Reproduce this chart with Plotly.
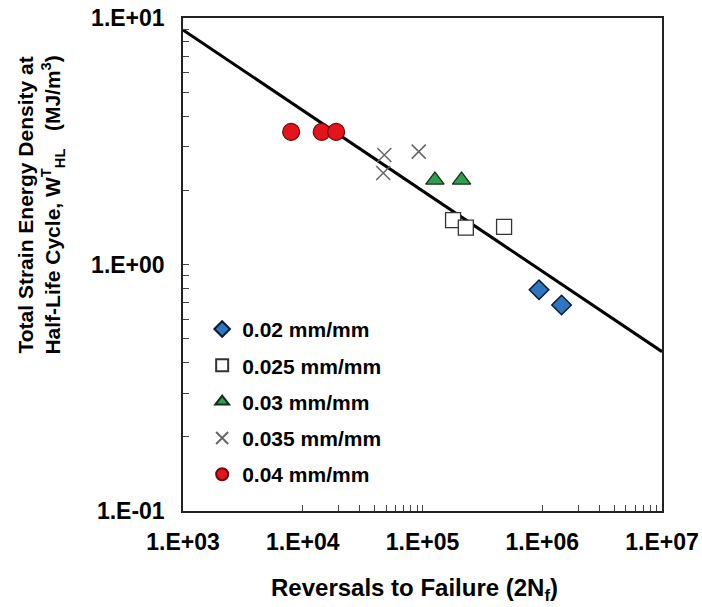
import plotly.graph_objects as go

# ---- data ----
x_002 = [9.4e5, 1.45e6]
y_002 = [0.79, 0.685]

x_0025 = [1.8e5, 2.3e5, 4.8e5]
y_0025 = [1.515, 1.41, 1.42]

x_003 = [1.27e5, 2.12e5]
y_003 = [2.20, 2.20]

x_0035 = [4.8e4, 4.7e4, 9.3e4]
y_0035 = [2.78, 2.35, 2.87]

x_004 = [8.0e3, 1.44e4, 1.9e4]
y_004 = [3.45, 3.45, 3.45]

fit_x = [1e3, 1e7]
fit_y = [8.94, 0.443]

x_major = [1e3, 1e4, 1e5, 1e6, 1e7]
x_major_text = ["1.E+03", "1.E+04", "1.E+05", "1.E+06", "1.E+07"]
x_minor = [2e4, 3e4, 4e4, 5e4, 6e4, 7e4, 8e4, 9e4,
           2e6, 3e6, 4e6, 5e6, 6e6, 7e6, 8e6, 9e6]

y_major = [0.1, 1, 10]
y_major_text = ["1.E-01", "1.E+00", "1.E+01"]
y_minor = [0.2, 0.3, 0.4, 0.5, 0.6, 0.7, 0.8, 0.9,
           2, 3, 4, 5, 6, 7, 8, 9]

FONT = "Liberation Sans, Arial, sans-serif"

fig = go.Figure()

fig.add_trace(go.Scatter(x=fit_x, y=fit_y, mode="lines",
                         line=dict(color="black", width=3), showlegend=False,
                         hoverinfo="skip"))

fig.add_trace(go.Scatter(x=x_002, y=y_002, mode="markers", name="0.02 mm/mm",
                         legendgroup="a",
                         marker=dict(symbol="diamond", size=15, color="#2F75C0",
                                     line=dict(color="#0a1a30", width=1.5))))
fig.add_trace(go.Scatter(x=x_0025, y=y_0025, mode="markers", name="0.025 mm/mm",
                         legendgroup="b",
                         marker=dict(symbol="square", size=15, color="white",
                                     line=dict(color="#333333", width=1.3))))
fig.add_trace(go.Scatter(x=x_003, y=y_003, mode="markers", name="0.03 mm/mm",
                         legendgroup="c",
                         marker=dict(symbol="triangle-up", size=16, color="#2E9E50",
                                     line=dict(color="#1a2a1a", width=1.2))))
fig.add_trace(go.Scatter(x=x_0035, y=y_0035, mode="markers", name="0.035 mm/mm",
                         legendgroup="d",
                         marker=dict(symbol="x-thin-open", size=14, color="#666666",
                                     line=dict(color="#666666", width=1.5))))
fig.add_trace(go.Scatter(x=x_004, y=y_004, mode="markers", name="0.04 mm/mm",
                         legendgroup="e",
                         marker=dict(symbol="circle", size=17, color="#E3141B",
                                     line=dict(color="#6a0a0a", width=1.2))))

fig.update_xaxes(type="log", range=[3, 7], tickmode="array", automargin=False,
                 tickvals=x_major, ticktext=x_major_text,
                 ticks="inside", ticklen=6, tickcolor="#444444", tickwidth=1.2,
                 minor=dict(tickmode="array", tickvals=x_minor, ticks="inside",
                            ticklen=6, tickcolor="#444444", tickwidth=1.2, showgrid=False),
                 showline=True, linecolor="#222222", linewidth=1.5, mirror=True,
                 showgrid=False, zeroline=False, ticklabelstandoff=10,
                 tickfont=dict(family=FONT, size=23, color="black", weight="bold"))
fig.update_yaxes(type="log", range=[-1, 1], tickmode="array", automargin=False,
                 tickvals=y_major, ticktext=y_major_text,
                 ticks="inside", ticklen=6, tickcolor="#444444", tickwidth=1.2,
                 minor=dict(tickmode="array", tickvals=y_minor, ticks="inside",
                            ticklen=6, tickcolor="#444444", tickwidth=1.2, showgrid=False),
                 showline=True, linecolor="#222222", linewidth=1.5, mirror=True,
                 showgrid=False, zeroline=False, ticklabelstandoff=12,
                 tickfont=dict(family=FONT, size=23, color="black", weight="bold"))

fig.add_annotation(text="Reversals to Failure (2N<sub>f</sub>)", xref="paper", yref="paper",
                   x=0.484, y=-0.16, xanchor="center", yanchor="middle", showarrow=False,
                   font=dict(family=FONT, size=24, color="black", weight="bold"))
fig.add_annotation(text="Total Strain Energy Density at<br>Half-Life Cycle, W<sup>T</sup><sub>HL</sub>   (MJ/m<sup>3</sup>)",
                   xref="paper", yref="paper", x=-0.296, y=0.62, textangle=-90,
                   xanchor="center", yanchor="middle", showarrow=False,
                   font=dict(family=FONT, size=21, color="black", weight="bold"))

fig.update_layout(
    width=702, height=607,
    margin=dict(l=183, r=40, t=18, b=96),
    plot_bgcolor="white", paper_bgcolor="white",
    legend=dict(x=0.04, y=0.41, xanchor="left", yanchor="top",
                bgcolor="rgba(0,0,0,0)", itemsizing="constant",
                tracegroupgap=6,
                font=dict(family=FONT, size=21, color="black", weight="bold")),
)

fig.write_html("out.html")
